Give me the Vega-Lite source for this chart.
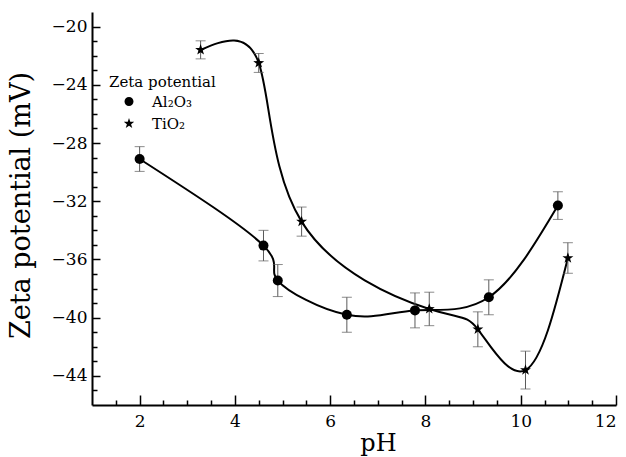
{
  "$schema": "https://vega.github.io/schema/vega-lite/v6.json",
  "width": 524,
  "height": 393,
  "autosize": "none",
  "padding": {"left": 92, "top": 12, "right": 10, "bottom": 52},
  "background": "white",
  "data": {
    "values": [
      {"series": "Al₂O₃", "pH": 2.0, "zeta": -29.1, "err": 0.85},
      {"series": "Al₂O₃", "pH": 4.6, "zeta": -35.05, "err": 1.05},
      {"series": "Al₂O₃", "pH": 4.9, "zeta": -37.45, "err": 1.1},
      {"series": "Al₂O₃", "pH": 6.35, "zeta": -39.8, "err": 1.2},
      {"series": "Al₂O₃", "pH": 7.78, "zeta": -39.5, "err": 1.2},
      {"series": "Al₂O₃", "pH": 9.33, "zeta": -38.6, "err": 1.2},
      {"series": "Al₂O₃", "pH": 10.78, "zeta": -32.3, "err": 0.95},
      {"series": "TiO₂", "pH": 3.28, "zeta": -21.6, "err": 0.62},
      {"series": "TiO₂", "pH": 4.5, "zeta": -22.5, "err": 0.65},
      {"series": "TiO₂", "pH": 5.4, "zeta": -33.4, "err": 1.0},
      {"series": "TiO₂", "pH": 8.08, "zeta": -39.4, "err": 1.15},
      {"series": "TiO₂", "pH": 9.1, "zeta": -40.8, "err": 1.2},
      {"series": "TiO₂", "pH": 10.1, "zeta": -43.6, "err": 1.3},
      {"series": "TiO₂", "pH": 10.99, "zeta": -35.9, "err": 1.05}
    ]
  },
  "resolve": {
    "axis": {"x": "independent", "y": "independent"},
    "scale": {"shape": "independent"},
    "legend": {"shape": "independent"}
  },
  "layer": [
    {
      "mark": {"type": "line", "interpolate": "natural", "color": "black", "strokeWidth": 2},
      "encoding": {
        "x": {
          "field": "pH", "type": "quantitative",
          "scale": {"domain": [1, 12], "nice": false, "zero": false},
          "axis": {
            "orient": "bottom",
            "title": "pH",
            "values": [2, 4, 6, 8, 10, 12],
            "format": "d",
            "tickSize": -10,
            "labelPadding": 18,
            "grid": false,
            "titleFontSize": 24,
            "titleX": 286,
            "titleY": 45,
            "titleAlign": "center",
            "titleBaseline": "alphabetic"
          }
        },
        "y": {
          "field": "zeta", "type": "quantitative",
          "scale": {"domain": [-46, -19], "nice": false, "zero": false},
          "axis": {
            "orient": "left",
            "title": "Zeta potential (mV)",
            "values": [-44, -40, -36, -32, -28, -24, -20],
            "tickSize": -8,
            "labelPadding": 13,
            "grid": false,
            "titleFontSize": 27,
            "titleAngle": -90,
            "titleX": -63,
            "titleY": 193,
            "titleAlign": "center",
            "titleBaseline": "alphabetic"
          }
        },
        "detail": {"field": "series"}
      }
    },
    {
      "mark": {"type": "errorbar", "ticks": {"size": 10}, "color": "#5a5a5a", "thickness": 1},
      "encoding": {
        "x": {"field": "pH", "type": "quantitative", "scale": {"domain": [1, 12], "nice": false, "zero": false}, "axis": null},
        "y": {"field": "zeta", "type": "quantitative", "scale": {"domain": [-46, -19], "nice": false, "zero": false}, "axis": null},
        "yError": {"field": "err"},
        "detail": {"field": "series"}
      }
    },
    {
      "mark": {"type": "point", "filled": true, "color": "black", "opacity": 1, "size": 100},
      "encoding": {
        "x": {"field": "pH", "type": "quantitative", "scale": {"domain": [1, 12], "nice": false, "zero": false}, "axis": null},
        "y": {"field": "zeta", "type": "quantitative", "scale": {"domain": [-46, -19], "nice": false, "zero": false}, "axis": null},
        "shape": {
          "field": "series", "type": "nominal",
          "scale": {"domain": ["Al₂O₃", "TiO₂"], "range": ["circle", "M0,-1.15L0.27,-0.372L1.094,-0.355L0.437,0.142L0.676,0.93L0,0.46L-0.676,0.93L-0.437,0.142L-1.094,-0.355L-0.27,-0.372Z"]},
          "legend": null
        }
      }
    },
    {
      "transform": [{"filter": "datum.pH > 100"}],
      "mark": {"type": "point", "filled": true, "color": "black", "opacity": 1, "size": 100, "strokeWidth": 2},
      "encoding": {
        "x": {"field": "pH", "type": "quantitative", "scale": {"domain": [1, 12], "nice": false, "zero": false}, "axis": null},
        "y": {"field": "zeta", "type": "quantitative", "scale": {"domain": [-46, -19], "nice": false, "zero": false}, "axis": null},
        "shape": {
          "field": "series", "type": "nominal",
          "scale": {"domain": ["Al₂O₃", "TiO₂"], "range": ["M-1,0L6,0M3.4,0A0.9,0.9 0 1,1 1.6,0A0.9,0.9 0 1,1 3.4,0Z", "M-1,0L6,0M2.5,-1.1L2.75,-0.356L3.546,-0.34L2.918,0.136L3.147,0.89L2.5,0.44L1.853,0.89L2.082,0.136L1.454,-0.34L2.25,-0.356Z"]},
          "legend": {
            "title": "Zeta potential",
            "orient": "none",
            "legendX": 17,
            "legendY": 63,
            "symbolSize": 100,
            "symbolFillColor": "black",
            "symbolStrokeColor": "black",
            "symbolStrokeWidth": 2,
            "symbolOpacity": 1,
            "labelOffset": 28,
            "rowPadding": 4,
            "titlePadding": 4
          }
        }
      }
    },
    {
      "mark": {"type": "point", "opacity": 0},
      "encoding": {
        "x": {
          "field": "pH", "type": "quantitative",
          "scale": {"domain": [1, 12], "nice": false, "zero": false},
          "axis": {
            "orient": "bottom",
            "title": null,
            "values": [1.5, 2.5, 3, 3.5, 4.5, 5, 5.5, 6.5, 7, 7.5, 8.5, 9, 9.5, 10.5, 11, 11.5],
            "labels": false,
            "domain": false,
            "tickSize": -5,
            "grid": false
          }
        },
        "y": {
          "field": "zeta", "type": "quantitative",
          "scale": {"domain": [-46, -19], "nice": false, "zero": false},
          "axis": {
            "orient": "left",
            "title": null,
            "values": [-45, -43, -42, -41, -39, -38, -37, -35, -34, -33, -31, -30, -29, -27, -26, -25, -23, -22, -21],
            "labels": false,
            "domain": false,
            "tickSize": -5,
            "grid": false
          }
        }
      }
    }
  ],
  "config": {
    "view": {"stroke": null},
    "font": "DejaVu Serif",
    "axis": {
      "domainColor": "black",
      "domainWidth": 2,
      "tickColor": "black",
      "tickWidth": 1.5,
      "labelFont": "DejaVu Serif",
      "labelFontSize": 17,
      "labelColor": "black",
      "titleFont": "DejaVu Serif",
      "titleFontWeight": "normal",
      "titleColor": "black"
    },
    "legend": {
      "titleFont": "DejaVu Serif",
      "titleFontSize": 15,
      "titleFontWeight": "normal",
      "titleColor": "black",
      "labelFont": "DejaVu Serif",
      "labelFontSize": 15,
      "labelColor": "black"
    }
  }
}
